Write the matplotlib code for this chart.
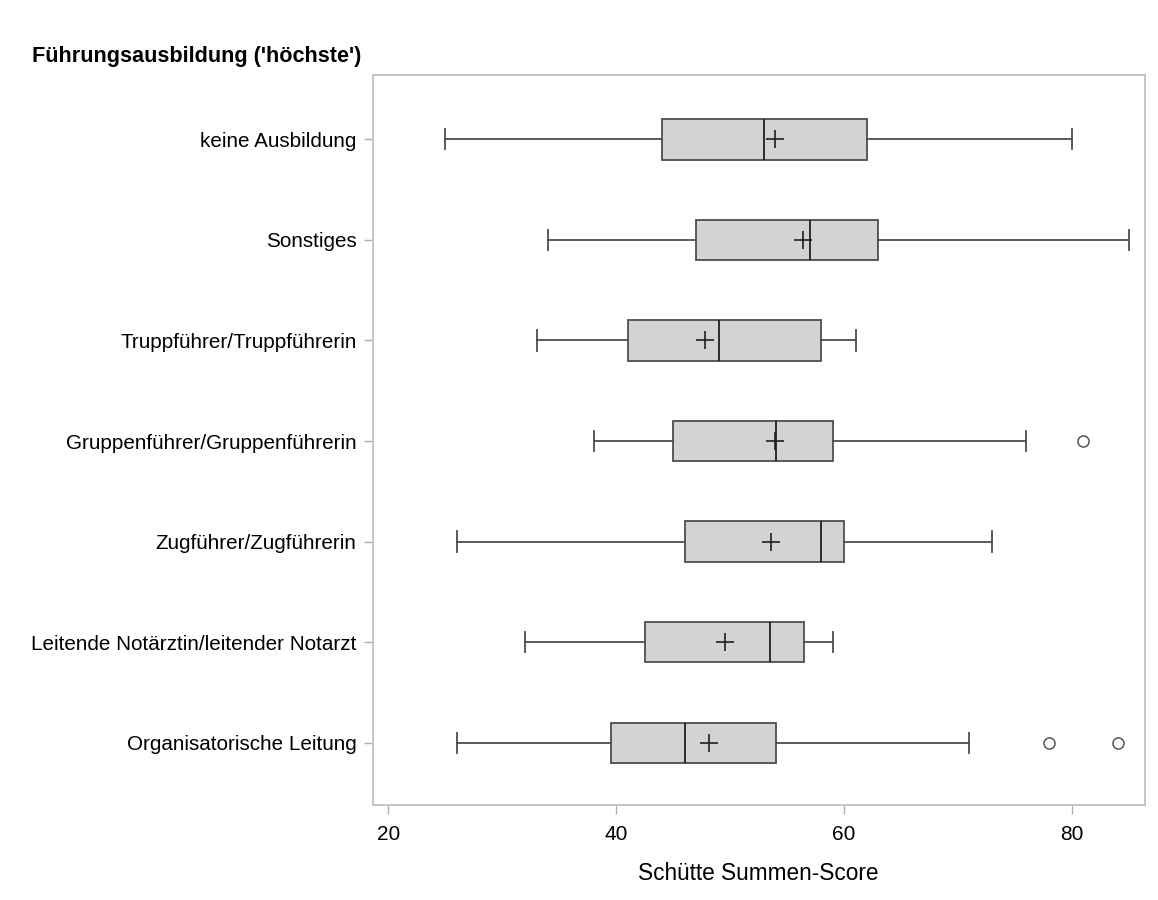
import matplotlib
matplotlib.use("Agg")
import matplotlib.pyplot as plt

plt.rcParams['font.family'] = ['Liberation Sans', 'DejaVu Sans']

categories = [
    "keine Ausbildung",
    "Sonstiges",
    "Truppführer/Truppführerin",
    "Gruppenführer/Gruppenführerin",
    "Zugführer/Zugführerin",
    "Leitende Notärztin/leitender Notarzt",
    "Organisatorische Leitung",
]
whisker_low = [25, 34, 33, 38, 26, 32, 26]
q1 = [44, 47, 41, 45, 46, 42.5, 39.5]
median = [53, 57, 49, 54, 58, 53.5, 46]
mean = [53.9, 56.4, 47.8, 53.9, 53.6, 49.5, 48.1]
q3 = [62, 63, 58, 59, 60, 56.5, 54]
whisker_high = [80, 85, 61, 76, 73, 59, 71]
outliers = [[], [], [], [81], [], [], [78, 84]]
xticks = [20, 40, 60, 80]

stats = []
for i, name in enumerate(categories):
    stats.append(dict(label=name, whislo=whisker_low[i], q1=q1[i], med=median[i],
                      q3=q3[i], whishi=whisker_high[i], mean=mean[i],
                      fliers=outliers[i]))

fig = plt.figure(figsize=(11.58, 9.0), dpi=100)
ax = fig.add_axes([0.3217, 0.1056, 0.667, 0.811])

positions = list(range(len(categories)))
ax.bxp(stats, positions=positions, vert=False, widths=0.4, patch_artist=True,
       showmeans=True, showfliers=True,
       boxprops=dict(facecolor='#d3d3d3', edgecolor='#4d4d4d', linewidth=1.3),
       medianprops=dict(color='#202020', linewidth=1.3),
       whiskerprops=dict(color='#4d4d4d', linewidth=1.3),
       capprops=dict(color='#4d4d4d', linewidth=1.3),
       capwidths=0.2,
       meanprops=dict(marker='+', markeredgecolor='#202020', markersize=13,
                      markeredgewidth=1.2),
       flierprops=dict(marker='o', markerfacecolor='white', markeredgecolor='#555555',
                       markersize=8, markeredgewidth=1.1))

ax.set_ylim(6.62, -0.64)
ax.set_xlim(18.6, 86.4)
ax.set_yticks(positions)
ax.set_yticklabels(categories, fontsize=14.9)
ax.set_xticks(xticks)
ax.set_xticklabels([str(t) for t in xticks], fontsize=15)
ax.tick_params(axis='both', colors='#b0b0b0', labelcolor='black', length=6.5, width=1)
ax.tick_params(axis='x', pad=8)
ax.tick_params(axis='y', pad=5)
for s in ax.spines.values():
    s.set_color('#c0c0c0')
    s.set_linewidth(1.3)

ax.set_xlabel("Schütte Summen-Score", fontsize=16.3, labelpad=13)
fig.text(0.0276, 1 - 62 / 900, "Führungsausbildung ('höchste')", fontsize=15.6,
         fontweight='bold', ha='left', va='baseline')

fig.savefig("out.png", dpi=100)
